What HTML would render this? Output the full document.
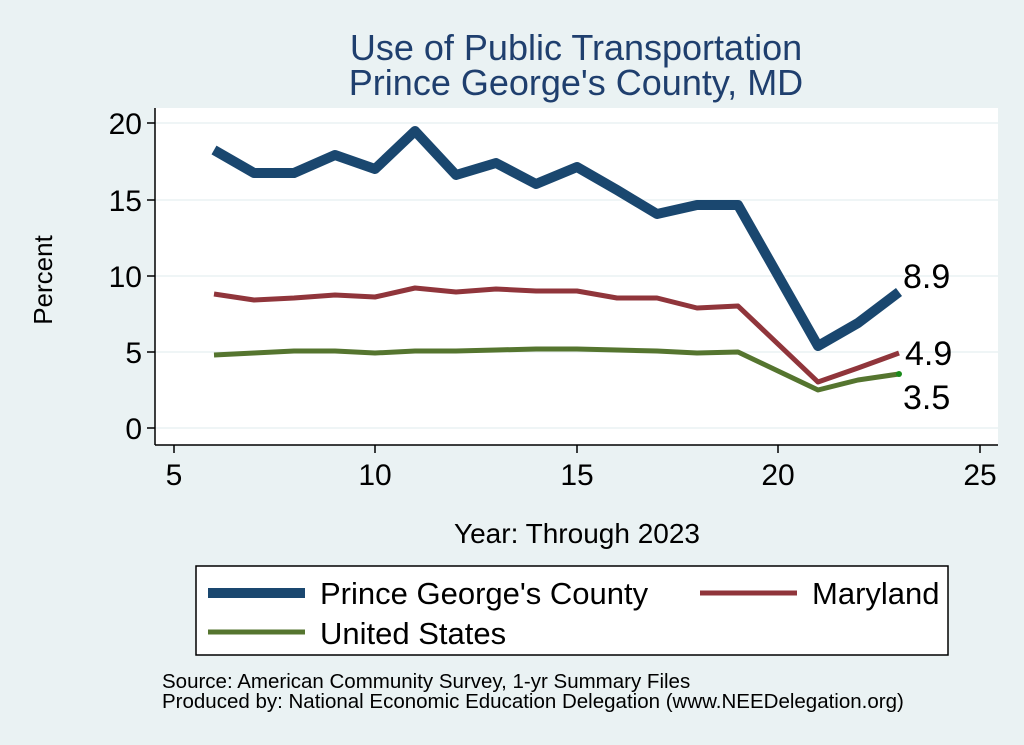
<!DOCTYPE html>
<html><head><style>body{margin:0;background:#EAF2F3;}svg{display:block}</style></head><body>
<svg width="1024" height="745" xmlns="http://www.w3.org/2000/svg" font-family="Liberation Sans, Arial, sans-serif">
<rect width="1024" height="745" fill="#EAF2F3"/>
<rect x="155" y="108" width="843" height="337" fill="#fff"/>
<g stroke="#EAF2F3" stroke-width="1.5">
<line x1="155" x2="998" y1="123" y2="123"/><line x1="155" x2="998" y1="200" y2="200"/><line x1="155" x2="998" y1="276" y2="276"/><line x1="155" x2="998" y1="352" y2="352"/><line x1="155" x2="998" y1="428" y2="428"/>
</g>
<g stroke="#000" stroke-width="1.5">
<line x1="155" x2="155" y1="108" y2="445"/><line x1="155" x2="998" y1="445" y2="445"/>
<line x1="147" x2="155" y1="123" y2="123"/><line x1="147" x2="155" y1="200" y2="200"/><line x1="147" x2="155" y1="276" y2="276"/><line x1="147" x2="155" y1="352" y2="352"/><line x1="147" x2="155" y1="428" y2="428"/>
<line x1="174" x2="174" y1="445" y2="453"/><line x1="375" x2="375" y1="445" y2="453"/><line x1="577" x2="577" y1="445" y2="453"/><line x1="778" x2="778" y1="445" y2="453"/><line x1="980" x2="980" y1="445" y2="453"/>
</g>
<g font-size="30" text-anchor="end" fill="#000">
<text x="142" y="134">20</text><text x="142" y="211">15</text><text x="142" y="287">10</text><text x="142" y="363">5</text><text x="142" y="439">0</text>
</g>
<g font-size="30" text-anchor="middle" fill="#000">
<text x="174" y="485">5</text><text x="375" y="485">10</text><text x="577" y="485">15</text><text x="778" y="485">20</text><text x="980" y="485">25</text>
</g>
<text x="577" y="543" font-size="28" text-anchor="middle">Year: Through 2023</text>
<text transform="translate(52,280) rotate(-90)" font-size="26" text-anchor="middle">Percent</text>
<text x="576" y="60" font-size="36" fill="#1F3F6E" text-anchor="middle">Use of Public Transportation</text>
<text x="576" y="95" font-size="36" fill="#1F3F6E" text-anchor="middle">Prince George's County, MD</text>
<polyline fill="none" stroke="#1A476F" stroke-width="10" stroke-linejoin="round" points="214,150 254,173 294,173 335,155 375,169 415,131 456,175 496,163 536,184 577,167 617,190 657,214 697,205 738,205 818,346 858,323 899,292"/>
<polyline fill="none" stroke="#90353B" stroke-width="5" stroke-linejoin="round" points="214,294 254,300 294,298 335,295 375,297 415,288 456,292 496,289 536,291 577,291 617,298 657,298 697,308 738,306 818,382 858,368 899,353"/>
<polyline fill="none" stroke="#55752F" stroke-width="5" stroke-linejoin="round" points="214,355 254,353 294,351 335,351 375,353 415,351 456,351 496,350 536,349 577,349 617,350 657,351 697,353 738,352 818,390 858,380 899,374"/>
<circle cx="899" cy="374" r="3" fill="#1a8a1a"/>
<g font-size="34" fill="#000"><text x="903" y="288">8.9</text><text x="905" y="365">4.9</text><text x="903" y="409">3.5</text></g>
<rect x="196" y="566" width="752" height="89" fill="#fff" stroke="#000" stroke-width="1.5"/>
<line x1="208" x2="305" y1="593" y2="593" stroke="#1A476F" stroke-width="10"/>
<line x1="700" x2="797" y1="593" y2="593" stroke="#90353B" stroke-width="5"/>
<line x1="208" x2="305" y1="632" y2="632" stroke="#55752F" stroke-width="5"/>
<g font-size="31"><text x="320" y="604">Prince George's County</text><text x="812" y="604">Maryland</text><text x="320" y="644">United States</text></g>
<g font-size="20.5"><text x="162" y="688">Source: American Community Survey, 1-yr Summary Files</text><text x="162" y="708">Produced by: National Economic Education Delegation (www.NEEDelegation.org)</text></g>
</svg>
</body></html>
